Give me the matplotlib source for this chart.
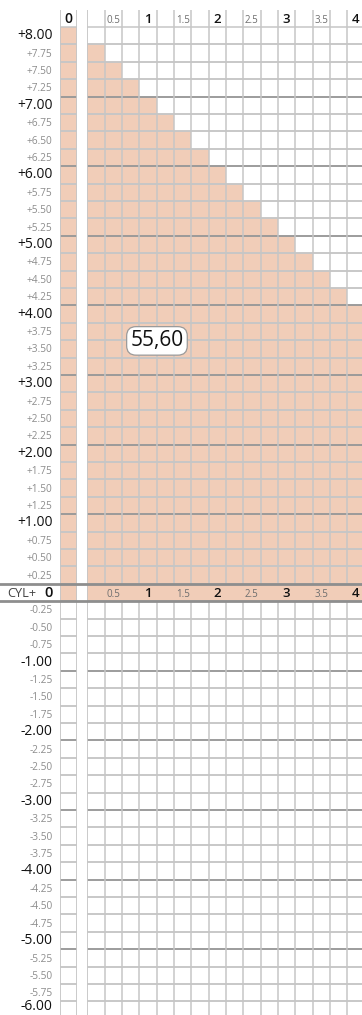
import numpy as np
import matplotlib.pyplot as plt
from matplotlib import colors

plt.rcParams['font.family'] = ['Open Sans', 'DejaVu Sans']

# sphere rows (+8.00 .. -6.00) and cylinder columns (0.25 .. 4.00) of the lens grid
spheres = np.arange(8.0, -6.01, -0.25)
cylinders = np.arange(0.25, 4.01, 0.25)

# highest cylinder that can be made for each plus sphere, +8.00 down to +0.25
max_cyl_plus = [0.00, 0.25, 0.50, 0.75, 1.00, 1.25, 1.50, 1.75,
                2.00, 2.25, 2.50, 2.75, 3.00, 3.25, 3.50, 3.75,
                4.00, 4.00, 4.00, 4.00, 4.00, 4.00, 4.00, 4.00,
                4.00, 4.00, 4.00, 4.00, 4.00, 4.00, 4.00, 4.00]

cyl_ticks = [0.5, 1, 1.5, 2, 2.5, 3, 3.5, 4]
cyl_tick_labels = ['0.5', '1', '1.5', '2', '2.5', '3', '3.5', '4']
price_label = '55,60'

PEACH = '#F1CDB8'
GRID = '#c6c6c6'
DARK = '#8e8e8e'

# layout (pixels)
W, H = 362, 1015
ROW = 17.4
COL = 17.33
TOP = 27.0
ZERO_LEFT = 60.0
MAIN_LEFT = 87.3
y_top = 8.125 + TOP / ROW * 0.25
y_bot = 8.125 - (H - TOP) / ROW * 0.25
head_top = 8.125 + 17 / ROW * 0.25
base_off = 5 / ROW * 0.25
lab_off = 3.6 / ROW * 0.25

# fill table: row is sphere, column is cylinder, CYL header row (sphere 0) is all filled
def max_cyl(s):
    if s > 0:
        return max_cyl_plus[int(round((8.0 - s) / 0.25))]
    if s == 0:
        return 4.0
    return -1.0

row_max = np.array([max_cyl(s) for s in spheres])
z_main = (cylinders[None, :] <= row_max[:, None] + 1e-9).astype(float)
z_zero = (row_max >= 0).astype(float)[:, None]

cmap = colors.ListedColormap(['white', PEACH])
y_edges = np.append(spheres + 0.125, spheres[-1] - 0.125)

fig = plt.figure(figsize=(W / 100, H / 100), dpi=100)

ax_zero = fig.add_axes([ZERO_LEFT / W, 0, COL / W, 1])
ax = fig.add_axes([MAIN_LEFT / W, 0, 16 * COL / W, 1])
ax_over = fig.add_axes([0, 0, 1, 1], zorder=5)
ax_over.patch.set_visible(False)

for a in (ax_zero, ax, ax_over):
    a.set_ylim(y_bot, y_top)
    a.axis('off')
ax_zero.set_xlim(-0.125, 0.125)
ax.set_xlim(0.125, 4.125)
ax_over.set_xlim(0, W)

ax_zero.pcolormesh([-0.125, 0.125], y_edges, z_zero, cmap=cmap, vmin=0, vmax=1)
x_edges = np.append(cylinders - 0.125, cylinders[-1] + 0.125)
ax.pcolormesh(x_edges, y_edges, z_main, cmap=cmap, vmin=0, vmax=1)

# horizontal row lines, darker at every whole dioptre
for s in spheres:
    if s == 0:
        continue
    edge = s + 0.125 if s > 0 else s - 0.125
    other = s - 0.125 if s > 0 else s + 0.125
    whole = abs(s - round(s)) < 1e-9 and s != 8.0
    for a in (ax_zero, ax):
        a.axhline(other, color=GRID, lw=1.1, zorder=1.5)
        a.axhline(edge, color=DARK if whole else GRID, lw=1.1, zorder=2)

# vertical column lines, skipped through the CYL header row
inner = x_edges[1:-1]
ax.vlines(inner, 0.125, head_top, color=GRID, lw=1.1, zorder=2)
ax.vlines(inner, y_bot, -0.125, color=GRID, lw=1.1, zorder=2)
ax.vlines([x_edges[0]], y_bot, head_top, color=GRID, lw=1.3, zorder=2)
ax_zero.vlines([-0.125, 0.125], y_bot, head_top, color=GRID, lw=1.3, zorder=2)

# heavy lines around the CYL header row
for edge in (0.125, -0.125):
    ax_over.axhline(edge, color=DARK, lw=2.0)

# column labels above the grid and inside the CYL row
ax_zero.text(0, 8.125 + base_off * 0.8, '0', ha='center', va='baseline',
             fontsize=10, fontweight='semibold', color='#111111')
for c, lab in zip(cyl_ticks, cyl_tick_labels):
    whole = float(c).is_integer()
    kw = dict(fontsize=9.5, fontweight='semibold', color='#111111') if whole \
        else dict(fontsize=7, color='#6e6e6e')
    ax.text(c, 8.125 + base_off * 0.8, lab, ha='center', va='baseline', **kw)
    ax.text(c, -base_off, lab, ha='center', va='baseline', zorder=3, **kw)

# sphere labels down the left side
bottom_room = y_bot + 1.5 / ROW * 0.25
for s in spheres:
    if s == 0:
        ax_over.text(7, -base_off, 'CYL+', ha='left', va='baseline',
                     fontsize=9.2, color='#444444')
        ax_over.text(52.5, -base_off, '0', ha='right', va='baseline',
                     fontsize=10.5, fontweight='semibold', color='#111111')
        continue
    lab = f'{s:+.2f}'
    whole = abs(s - round(s)) < 1e-9
    kw = dict(fontsize=10, color='#111111') if whole \
        else dict(fontsize=7.3, color='#8c8c8c')
    y = s - lab_off
    va = 'baseline'
    if y - 3.2 / ROW * 0.25 < bottom_room:
        # last row runs off the sheet, sit it on the bottom edge
        y, va = bottom_room, 'bottom'
    ax_over.text(52.5, y, lab, ha='right', va=va, **kw)

ax.text(1.13, 3.615, price_label, ha='center', va='center', fontsize=15,
        color='#111111', zorder=6,
        bbox=dict(boxstyle='round,pad=0.18,rounding_size=0.45', fc='white',
                  ec='#9a9a9a', lw=0.9))

fig.savefig('out.png', dpi=100)
